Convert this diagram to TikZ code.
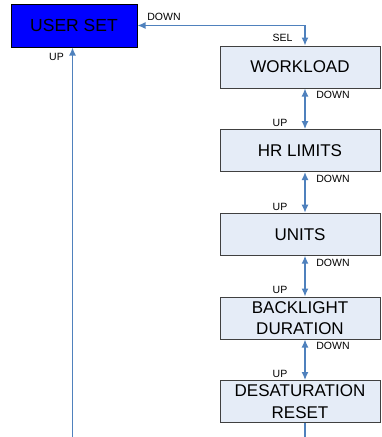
\documentclass[tikz,border=0pt]{standalone}
\usepackage{fontspec}
\setmainfont{Liberation Sans}
\usetikzlibrary{arrows.meta}
\definecolor{arrowblue}{RGB}{79,129,189}
\definecolor{boxfill}{RGB}{229,236,247}
\definecolor{boxline}{RGB}{64,64,64}
\begin{document}
\begin{tikzpicture}[x=1pt,y=-1pt,
  menubox/.style={draw=boxline, line width=1pt, fill=boxfill, minimum width=160pt, minimum height=42pt, inner sep=0pt, align=center, font=\fontsize{17}{21.7}\selectfont},
  topbox/.style={draw=black, line width=1pt, fill=blue, minimum width=126pt, minimum height=43pt, inner sep=0pt, font=\fontsize{17.5}{20}\selectfont},
  lbl/.style={inner sep=0pt, font=\fontsize{10.5}{12}\selectfont},
  conn/.style={draw=arrowblue, line width=1.3pt, -{Latex[length=8pt,width=7pt]}},
  conn2/.style={draw=arrowblue, line width=1.3pt, {Latex[length=8pt,width=7pt]}-{Latex[length=8pt,width=7pt]}},
  plain/.style={draw=arrowblue, line width=1.3pt}]
\useasboundingbox (0,0) rectangle (382,437);
\node[topbox] (userset) at (74,25.5) {USER SET};
\node[menubox] (workload) at (300,67) {WORKLOAD};
\node[menubox] (hr) at (300,150.6) {HR LIMITS};
\node[menubox] (units) at (300,234.2) {UNITS};
\node[menubox] (back) at (300,318) {BACKLIGHT\\DURATION};
\node[menubox] (desat) at (300,401.5) {DESATURATION\\RESET};
\coordinate (ax) at (305,0);
\coordinate (leftbot) at (72.5,437);
\coordinate (rightbot) at (305,437);
% connectors
\draw[conn2] (userset.east) -| (workload.north -| ax);
\draw[conn] (leftbot) -- (userset.south -| leftbot);
\draw[conn2] (workload.south -| ax) -- (hr.north -| ax);
\draw[conn2] (hr.south -| ax) -- (units.north -| ax);
\draw[conn2] (units.south -| ax) -- (back.north -| ax);
\draw[conn2] (back.south -| ax) -- (desat.north -| ax);
\draw[plain] (desat.south -| ax) -- (rightbot);
% labels
\node[lbl] (l1) at (164,16.5) {DOWN};
\node[lbl] (l2) at (56.5,56.5) {UP};
\node[lbl] (l3) at (282.5,37.5) {SEL};
\node[lbl] (d1) at (333,95) {DOWN};
\node[lbl] (u1) at (280,123) {UP};
\node[lbl] (d2) at (333,178.5) {DOWN};
\node[lbl] (u2) at (280,206.5) {UP};
\node[lbl] (d3) at (333,262.5) {DOWN};
\node[lbl] (u3) at (280,290) {UP};
\node[lbl] (d4) at (333,346) {DOWN};
\node[lbl] (u4) at (280,373.5) {UP};
\end{tikzpicture}
\end{document}
